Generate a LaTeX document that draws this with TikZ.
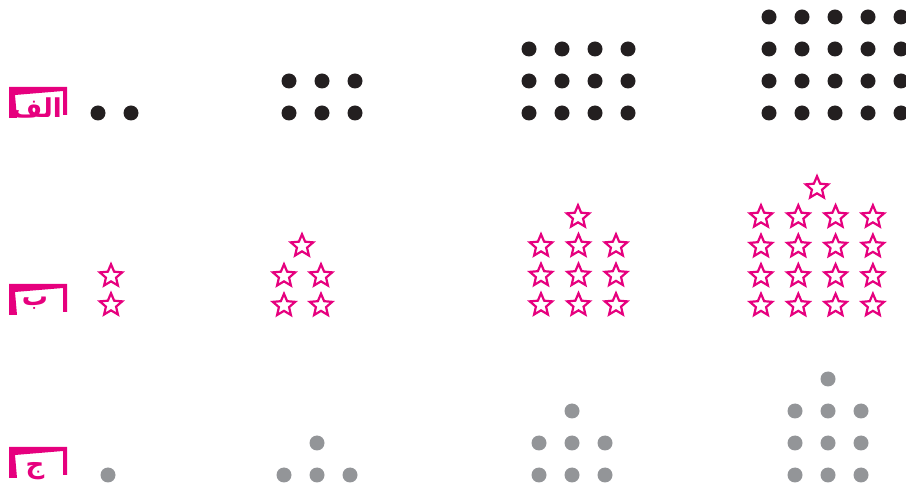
\documentclass[tikz,border=0pt]{standalone}
\usepackage{fontspec}
\TeXXeTstate=1
\newfontfamily\arabicfont[Script=Arabic]{DejaVu Sans}
\usetikzlibrary{shapes.geometric}
\definecolor{mag}{HTML}{E6007E}
\definecolor{dotblack}{HTML}{231F20}
\definecolor{dotgray}{HTML}{939598}
\begin{document}
\begin{tikzpicture}[x=1pt,y=-1pt,
  bdot/.style={circle,fill=dotblack,inner sep=0pt,minimum size=15pt},
  gdot/.style={circle,fill=dotgray,inner sep=0pt,minimum size=15pt},
  pstar/.style={star,star points=5,star point ratio=2.2,draw=mag,line width=2.2pt,inner sep=0pt,minimum size=23.5pt},
  lbl/.style={text=mag,font=\arabicfont\bfseries\fontsize{26}{26}\selectfont,inner sep=0pt,anchor=base}]
\useasboundingbox (0,0) rectangle (906,486);
% badges
\foreach \by/\nm in {87/ba,284/bb,447/bc}{
  \fill[mag] (9,\by) -- ++(58,0) -- ++(0,28) -- ++(-4,0) -- ++(0,-24) -- ++(-48,4) -- ++(2,23) -- ++(-8,0) -- cycle;
}
\node[lbl] (la) at (37,118) {\beginR الف\endR};
\node[lbl] (lb) at (35,306) {\beginR ب\endR};
\node[lbl] (lc) at (35,474) {\beginR ج\endR};
% row A
\node[bdot] (a11) at (98,113) {};
\node[bdot] (a12) at (131,113) {};
\foreach \i in {0,1,2}{\foreach \j in {0,1}{
  \node[bdot] (a2-\i-\j) at (289+33*\i,81+32*\j) {};}}
\foreach \i in {0,...,3}{\foreach \j in {0,1,2}{
  \node[bdot] (a3-\i-\j) at (529+33*\i,49+32*\j) {};}}
\foreach \i in {0,...,4}{\foreach \j in {0,...,3}{
  \node[bdot] (a4-\i-\j) at (769+33*\i,17+32*\j) {};}}
% row B
\node[pstar] (b11) at (111,276) {};
\node[pstar] (b12) at (111,305) {};
\node[pstar] (b2t) at (302,246) {};
\foreach \i in {0,1}{\foreach \j in {0,1}{
  \node[pstar] (b2-\i-\j) at (284+37*\i,276+29.5*\j) {};}}
\node[pstar] (b3t) at (578,217) {};
\foreach \i in {0,1,2}{\foreach \j in {0,1,2}{
  \node[pstar] (b3-\i-\j) at (541+37.5*\i,246+29.5*\j) {};}}
\node[pstar] (b4t) at (817,188) {};
\foreach \i in {0,...,3}{\foreach \j in {0,...,3}{
  \node[pstar] (b4-\i-\j) at (761+37.3*\i,217+29.5*\j) {};}}
% row C
\node[gdot] (c11) at (108,475) {};
\node[gdot] (c2t) at (317,443) {};
\foreach \i in {0,1,2}{\node[gdot] (c2-\i) at (284+33*\i,475) {};}
\node[gdot] (c3t) at (572,411) {};
\foreach \i in {0,1,2}{\foreach \j in {0,1}{
  \node[gdot] (c3-\i-\j) at (539+33*\i,443+32*\j) {};}}
\node[gdot] (c4t) at (828,379) {};
\foreach \i in {0,1,2}{\foreach \j in {0,1,2}{
  \node[gdot] (c4-\i-\j) at (795+33*\i,411+32*\j) {};}}
\end{tikzpicture}
\end{document}
